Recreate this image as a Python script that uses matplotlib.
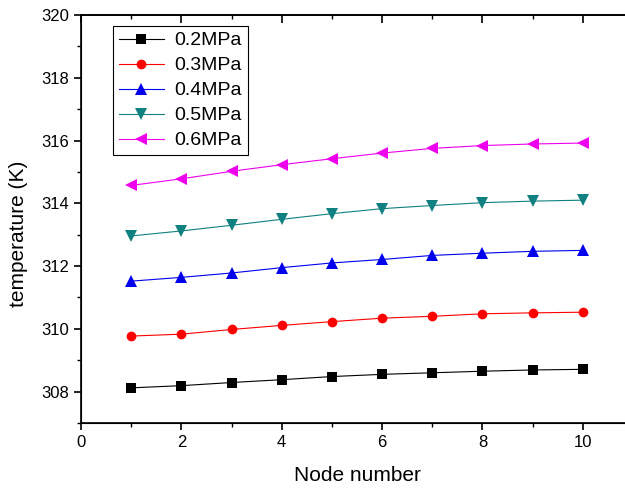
import matplotlib
matplotlib.use('Agg')
import matplotlib.pyplot as plt
from matplotlib.ticker import MultipleLocator

plt.rcParams['font.family'] = 'Liberation Sans'

# data
nodes = [1, 2, 3, 4, 5, 6, 7, 8, 9, 10]
t_02 = [308.12, 308.19, 308.29, 308.38, 308.48, 308.55, 308.60, 308.65, 308.69, 308.71]
t_03 = [309.77, 309.83, 309.98, 310.11, 310.23, 310.34, 310.40, 310.48, 310.51, 310.53]
t_04 = [311.52, 311.64, 311.78, 311.95, 312.10, 312.21, 312.34, 312.41, 312.47, 312.50]
t_05 = [312.96, 313.12, 313.30, 313.49, 313.67, 313.83, 313.93, 314.02, 314.07, 314.10]
t_06 = [314.57, 314.78, 315.02, 315.23, 315.42, 315.60, 315.75, 315.84, 315.89, 315.92]
labels = ['0.2MPa', '0.3MPa', '0.4MPa', '0.5MPa', '0.6MPa']

series = [t_02, t_03, t_04, t_05, t_06]
colors = ['black', 'red', '#0000ee', '#108080', '#ee00ee']
markers = ['s', 'o', '^', 'v', '<']
msizes = [6.5, 7, 8, 8, 8]

fig = plt.figure(figsize=(6.25, 4.88), dpi=100)
# right side of the axes is cut off in the reference
ax = fig.add_axes([81 / 625, 65 / 488, 552 / 625, 408 / 488])

for ys, c, m, ms, lab in zip(series, colors, markers, msizes, labels):
    ax.plot(nodes, ys, color=c, marker=m, markersize=ms, linewidth=0.8,
            markeredgewidth=0, label=lab)

ax.set_xlim(0, 11)
ax.set_ylim(307, 320)
ax.xaxis.set_major_locator(MultipleLocator(2))
ax.xaxis.set_minor_locator(MultipleLocator(1))
ax.yaxis.set_major_locator(MultipleLocator(2))
ax.yaxis.set_minor_locator(MultipleLocator(1))

ax.tick_params(axis='both', which='major', direction='out', length=5, width=1.2,
               labelsize=12)
ax.tick_params(axis='both', which='minor', direction='out', length=3, width=1.0)
ax.spines['right'].set_visible(False)
for sp in ax.spines.values():
    sp.set_linewidth(1.2)

# top axis ticks point inward
top = ax.twiny()
top.set_xlim(ax.get_xlim())
top.xaxis.set_major_locator(MultipleLocator(2))
top.xaxis.set_minor_locator(MultipleLocator(1))
top.tick_params(axis='x', which='major', direction='in', length=6, width=1.2,
                labeltop=False)
top.tick_params(axis='x', which='minor', direction='in', length=3, width=1.0)
top.spines['right'].set_visible(False)
top.spines['top'].set_linewidth(1.2)

ax.set_xlabel('Node number', fontsize=15, labelpad=12)
ax.set_ylabel('temperature (K)', fontsize=15)
ax.yaxis.set_label_coords(-0.096, 0.463)

leg = ax.legend(loc='upper left', bbox_to_anchor=(0.058, 0.973), borderaxespad=0,
                fontsize=14, fancybox=False, edgecolor='black', handlelength=2.3,
                borderpad=0.3, labelspacing=0.38, handletextpad=0.55,
                framealpha=1)
leg.get_frame().set_linewidth(0.8)

fig.savefig('out.png', dpi=100)
